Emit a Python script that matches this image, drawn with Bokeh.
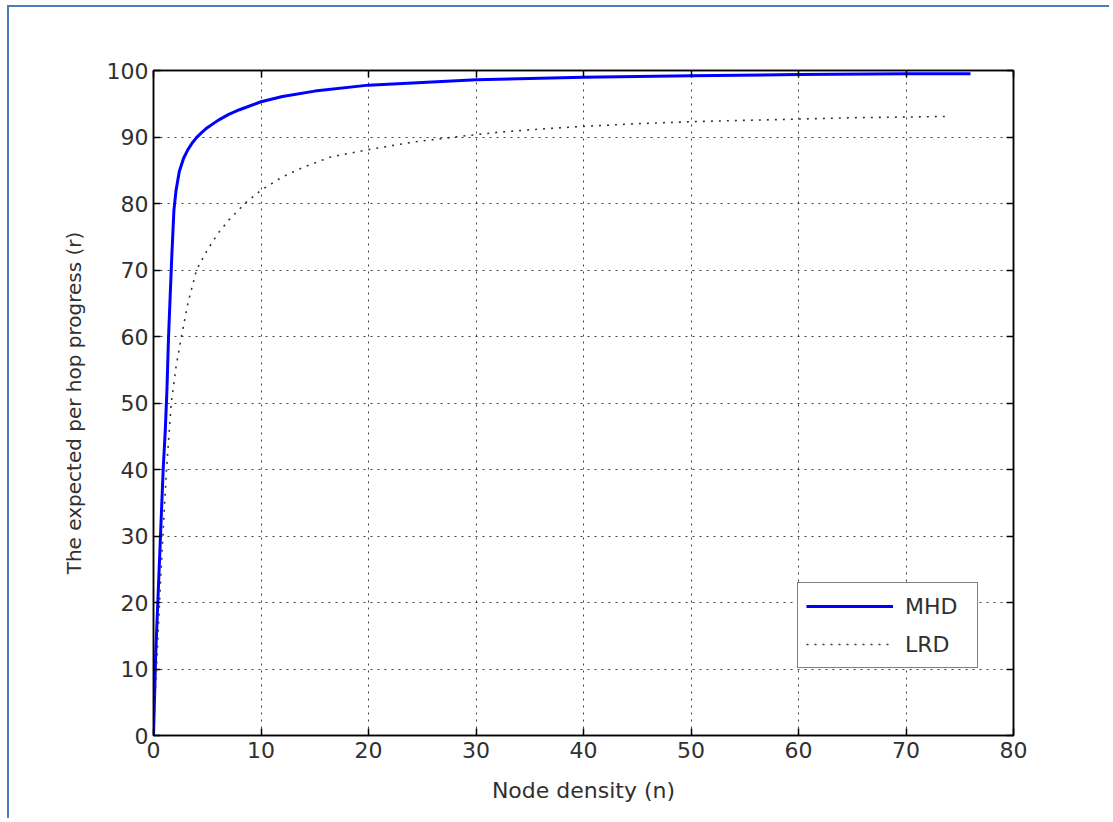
from bokeh.plotting import figure
from bokeh.models import LinearAxis, Legend, LegendItem, FixedTicker, Range1d
from bokeh.embed import file_html
from bokeh.resources import INLINE

# ---- data ----
mhd_x = [0, 0.1, 0.2, 0.4, 0.65, 0.9, 1.1, 1.25, 1.4, 1.55, 1.7, 1.9, 2.1, 2.4, 2.8, 3.2, 3.6,
         4.0, 4.5, 5.0, 6.0, 7.0, 8.0, 10, 12, 15, 20, 25, 30, 40, 50, 60, 70, 76]
mhd_y = [0, 6, 12, 20, 30, 40, 46, 52, 60, 66, 72, 79, 82, 84.8, 86.8, 88.1, 89.1,
         89.9, 90.7, 91.4, 92.5, 93.4, 94.1, 95.3, 96.1, 96.9, 97.8, 98.2, 98.6, 99.0, 99.2, 99.4, 99.5, 99.5]

lrd_x = [0, 0.28, 0.56, 0.87, 1.21, 1.65, 2.1, 2.6, 3.2, 4.0, 5.0, 6.0, 7.0, 8.5, 10, 12, 14,
         16.5, 20, 24, 28, 32, 36, 40, 45, 50, 55, 60, 65, 70, 74]
lrd_y = [0, 10, 20, 30, 40, 50, 55.5, 60, 65, 70, 73, 75.5, 77.5, 80, 82, 84, 85.5,
         87, 88.1, 89.2, 90, 90.7, 91.2, 91.6, 92.0, 92.3, 92.5, 92.7, 92.9, 93.0, 93.1]

x_ticks = [0, 10, 20, 30, 40, 50, 60, 70, 80]
y_ticks = [0, 10, 20, 30, 40, 50, 60, 70, 80, 90, 100]
series_names = ["MHD", "LRD"]
x_label = "Node density (n)"
y_label = "The expected per hop progress (r)"

FONT = "DejaVu Sans"
TXT = "#303030"

p = figure(width=1102, height=813, x_range=Range1d(0, 80), y_range=Range1d(0, 100),
           output_backend="svg", toolbar_location=None,
           min_border_left=144, min_border_right=98, min_border_top=63, min_border_bottom=85)
p.styles = {"margin-left": "9px", "margin-top": "7px",
            "box-shadow": "-2px -2px 0 0 #4a7ebb"}
p.background_fill_color = "white"
p.border_fill_color = "white"
p.outline_line_color = "black"
p.outline_line_width = 1.5

for ax, ticks in ((p.xaxis[0], x_ticks), (p.yaxis[0], y_ticks)):
    ax.ticker = FixedTicker(ticks=ticks)
    ax.major_tick_in = 7
    ax.major_tick_out = 0
    ax.minor_tick_line_color = None
    ax.axis_line_color = "black"
    ax.axis_line_width = 1.5
    ax.major_tick_line_color = "black"
    ax.major_tick_line_width = 1.5
    ax.major_label_text_font = FONT
    ax.major_label_text_font_size = "22px"
    ax.major_label_text_color = TXT
    ax.axis_label_text_font = FONT
    ax.axis_label_text_font_style = "normal"
    ax.axis_label_text_color = TXT

p.xaxis[0].axis_label = x_label
p.yaxis[0].axis_label = y_label
p.xaxis[0].axis_label_text_font_size = "22px"
p.yaxis[0].axis_label_text_font_size = "20px"
p.xaxis[0].major_label_standoff = 6
p.xaxis[0].axis_label_standoff = 17
p.yaxis[0].major_label_standoff = 5
p.yaxis[0].axis_label_standoff = 18

for loc, ticks in (("above", x_ticks), ("right", y_ticks)):
    a = LinearAxis(ticker=FixedTicker(ticks=ticks),
                   major_label_overrides={t: "" for t in ticks},
                   major_tick_in=7, major_tick_out=0, minor_tick_line_color=None,
                   axis_line_color="black", axis_line_width=1.5,
                   major_tick_line_color="black", major_tick_line_width=1.5,
                   major_label_standoff=0)
    p.add_layout(a, loc)

p.xgrid.ticker = FixedTicker(ticks=x_ticks)
p.ygrid.ticker = FixedTicker(ticks=y_ticks)
p.grid.grid_line_color = "black"
p.grid.grid_line_alpha = 0.75
p.grid.grid_line_width = 1
p.grid.grid_line_dash = "2 5"

r1 = p.line(mhd_x, mhd_y, line_color="#0000ff", line_width=3)
r2 = p.line(lrd_x, lrd_y, line_color="#333333", line_width=1.6, line_dash="2 6")

legend = Legend(items=[LegendItem(label=series_names[0], renderers=[r1]),
                       LegendItem(label=series_names[1], renderers=[r2])],
                location=(644, 67))
legend.border_line_color = "black"
legend.border_line_width = 1.5
legend.background_fill_color = "white"
legend.background_fill_alpha = 1
legend.label_text_font = FONT
legend.label_text_font_size = "22px"
legend.label_text_color = TXT
legend.glyph_width = 87
legend.glyph_height = 30
legend.label_height = 30
legend.label_width = 64
legend.spacing = 8
legend.padding = 8
legend.margin = 0
legend.label_standoff = 12
p.add_layout(legend, "center")

open("out.html", "w").write(file_html(p, INLINE))
